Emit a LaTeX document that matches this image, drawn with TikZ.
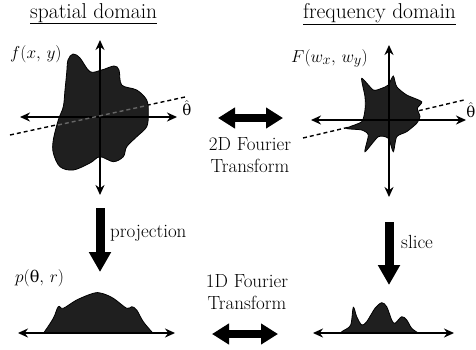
\documentclass[tikz,border=0pt]{standalone}
\usepackage{fontspec}
\newfontfamily\grk{DejaVu Serif}
\usetikzlibrary{arrows.meta}
\begin{document}
\begin{tikzpicture}[x=1pt,y=-1pt,
  every node/.style={inner sep=0pt, font=\fontsize{19}{22}\selectfont},
  titletext/.style={anchor=base west, font=\fontsize{21.5}{24}\selectfont},
  axisline/.style={line width=2pt, {Stealth[length=10pt,width=9pt]}-{Stealth[length=10pt,width=9pt]}},
  bigarrow/.style={line width=9pt, -{Triangle[length=20pt,width=21pt]}},
  dblarrow/.style={line width=8pt, {Triangle[length=17pt,width=20pt]}-{Triangle[length=17pt,width=20pt]}},
  blobfill/.style={fill=black!88, draw=black, line width=0.8pt},
  dashline/.style={line width=1.4pt, dash pattern=on 4pt off 3pt}]
\useasboundingbox (0,0) rectangle (476,349);

% titles
\node[titletext] (t1) at (30,18) {\underline{spatial domain}};
\node[titletext] (t2) at (303,18) {\underline{frequency domain}};

% ---------- spatial domain ----------
\coordinate (d1a) at (10,135); \coordinate (d1b) at (185,97);
\draw[dashline] (d1a) -- (d1b);
\fill[blobfill] plot[smooth cycle, tension=0.55] coordinates {
 (68,60) (73,54) (80,58) (90,71.7) (101.7,70) (114,66) (119,70) (121.7,85)
 (136.7,90) (146.7,100) (148.3,113) (146.7,126.7) (136.7,136.7) (126.7,146.7)
 (123.3,156.7) (113.3,161.7) (100,156.7) (90,163) (73.3,170) (60,166.7)
 (53.3,153) (53.3,140) (58.3,120) (63.3,106.7) (65,90) (66.7,73)};
\coordinate (LT) at (100,40); \coordinate (LB) at (100,195);
\coordinate (LL) at (20,117); \coordinate (LR) at (177,117);
\draw[axisline] (LB) -- (LT);
\draw[axisline] (LL) -- (LR);
\draw[dashline, black!60] (58,125) -- (147,105.5);
\node (f) [anchor=base west] at (10,58) {$f(x,\,y)$};
\node (th1) [font=\grk\fontsize{15}{18}\selectfont] at (187,108) {$\hat{\mbox{θ}}$};

% ---------- frequency domain ----------
\coordinate (d2a) at (303,138); \coordinate (d2b) at (464,100);
\draw[dashline] (d2a) -- (d2b);
\fill[blobfill] plot[smooth cycle, tension=0.4] coordinates {
 (361.7,78.3) (373.3,90) (381.7,88.3) (388.3,85) (393.3,76) (396.7,86.7)
 (406.7,95) (421.7,101.7) (417.3,108.3) (420,116.7) (416.7,123.3) (406.7,131.7)
 (396.7,136.7) (393.3,151.7) (388.3,138.3) (378.3,136.7) (365,151.7) (368.3,135)
 (361.7,130) (346.7,128.3) (361.7,121.7) (365,110) (365,96.7)};
\coordinate (RT) at (389,45); \coordinate (RB) at (389,197);
\coordinate (RL) at (311,120); \coordinate (RR) at (466,120);
\draw[axisline] (RB) -- (RT);
\draw[axisline] (RL) -- (RR);
\node (F) [anchor=base west] at (291,62) {$F(w_x,\,w_y)$};
\node (th2) [font=\grk\fontsize{15}{18}\selectfont] at (471,110) {$\hat{\mbox{θ}}$};

% ---------- middle ----------
\coordinate (m1a) at (218,118); \coordinate (m1b) at (283,118);
\draw[dblarrow] (m1a) -- (m1b);
\node (ft2) [anchor=north, align=center] at (250,137) {2D Fourier\\Transform};

\coordinate (m2a) at (212,334); \coordinate (m2b) at (278,334);
\draw[dblarrow] (m2a) -- (m2b);
\node (ft1) [anchor=north, align=center] at (247,274) {1D Fourier\\Transform};

% ---------- vertical thick arrows ----------
\coordinate (p1) at (100,208); \coordinate (p2) at (100,272);
\draw[bigarrow] (p1) -- (p2);
\node (proj) [anchor=base west] at (110,237) {projection};

\coordinate (s1) at (389,222); \coordinate (s2) at (389,285);
\draw[bigarrow] (s1) -- (s2);
\node (slice) [anchor=base west] at (401,248) {slice};

% ---------- projection profile ----------
\fill[blobfill] (43.3,333.5) -- plot[smooth, tension=0.6] coordinates {
 (43.3,333.5) (53.3,318.3) (58.3,306.7) (63.3,308.3) (76.7,300) (93.3,293.3)
 (101.7,293.3) (113.3,298.3) (126.7,308.3) (131.7,306.7) (136.7,310)
 (143.3,321.7) (153.3,333.5)} -- cycle;
\coordinate (BL1) at (18,333); \coordinate (BL2) at (175,333);
\draw[axisline] (BL1) -- (BL2);
\node (p) [anchor=base west] at (15,282) {$p(\mbox{\grk\fontsize{16}{18}\selectfont θ},\,r)$};

% ---------- slice profile ----------
\fill[blobfill] (340,333) -- plot[smooth, tension=0.5] coordinates {
 (340,333) (343.3,330.7) (350.7,325) (353.3,307.3) (356.7,316.7) (361.7,325)
 (366.7,321.7) (375,308.3) (381.7,302.7) (386.7,306.7) (391.7,320) (395,323.3)
 (401.7,316.7) (406.7,320) (411.7,328.3) (418.3,333)} -- cycle;
\coordinate (BR1) at (313,333); \coordinate (BR2) at (454,333);
\draw[axisline] (BR1) -- (BR2);
\end{tikzpicture}
\end{document}
